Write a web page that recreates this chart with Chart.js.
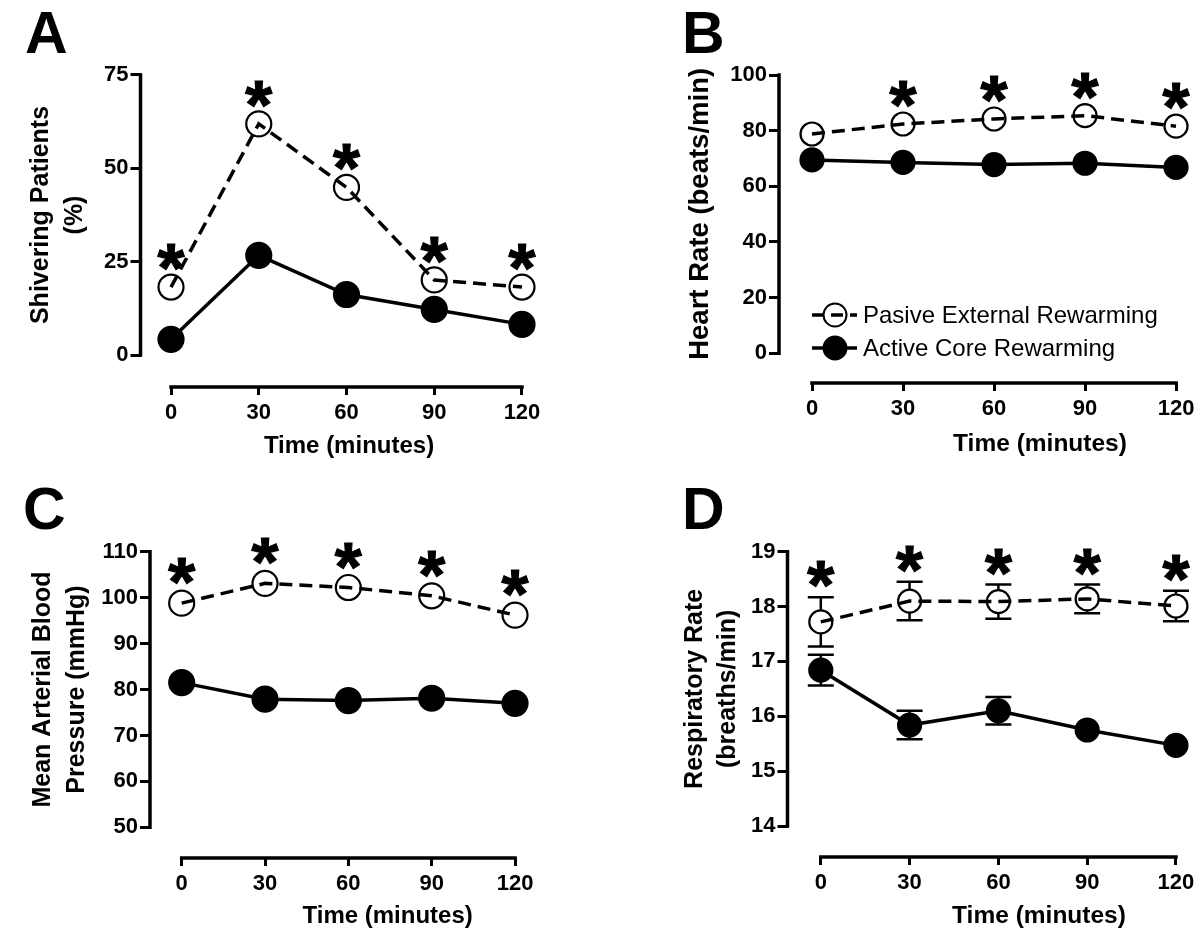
<!DOCTYPE html>
<html><head><meta charset="utf-8">
<script src="https://cdn.jsdelivr.net/npm/chart.js@4/dist/chart.umd.min.js"></script>
<style>
html,body{margin:0;padding:0;background:#fff;overflow:hidden;width:1200px;height:940px;}
#wrap{position:relative;width:1200px;height:940px;overflow:hidden;background:#fff;}
canvas{position:absolute;}
.lbl{position:absolute;font-family:"Liberation Sans",Arial,sans-serif;font-weight:bold;font-size:59px;line-height:59px;color:#000;}
</style></head><body>
<div id="wrap">
<canvas id="cA"></canvas>
<canvas id="cB"></canvas>
<canvas id="cC"></canvas>
<canvas id="cD"></canvas>
<div class="lbl" style="left:25px;top:4px">A</div>
<div class="lbl" style="left:682px;top:4px">B</div>
<div class="lbl" style="left:23px;top:480px">C</div>
<div class="lbl" style="left:682px;top:480px">D</div>
</div>
<script>
// ---------------- data ----------------
const timePoints = [0, 30, 60, 90, 120];
const xTickLabels = ['0', '30', '60', '90', '120'];
const seriesNames = ['Pasive External Rewarming', 'Active Core Rewarming'];
const xTitle = 'Time (minutes)';

// A: shivering patients (%)
const shiverPassive = [18.2, 61.9, 44.9, 20.1, 18.2];
const shiverActive  = [4.2, 26.7, 16.2, 12.2, 8.2];
const shiverSig     = [1, 1, 1, 1, 1];
const shiverTicks   = [0, 25, 50, 75];

// B: heart rate (beats/min)
const hrPassive = [78.8, 82.4, 84.2, 85.4, 81.6];
const hrActive  = [69.5, 68.6, 67.8, 68.3, 66.8];
const hrSig     = [0, 1, 1, 1, 1];
const hrTicks   = [0, 20, 40, 60, 80, 100];

// C: mean arterial blood pressure (mmHg)
const mapPassive = [98.8, 103.1, 102.2, 100.4, 96.2];
const mapActive  = [81.5, 77.9, 77.6, 78.1, 77.0];
const mapSig     = [1, 1, 1, 1, 1];
const mapTicks   = [50, 60, 70, 80, 90, 100, 110];

// D: respiratory rate (breaths/min) with SEM
const rrPassive    = [17.72, 18.10, 18.09, 18.14, 18.01];
const rrPassiveErr = [0.45, 0.35, 0.31, 0.26, 0.28];
const rrActive     = [16.84, 15.84, 16.10, 15.75, 15.47];
const rrActiveErr  = [0.28, 0.26, 0.25, 0, 0];
const rrSig        = [1, 1, 1, 1, 1];
const rrTicks      = [14, 15, 16, 17, 18, 19];

// ---------------- rendering ----------------
const FONT = '"Liberation Sans", Arial, Helvetica, sans-serif';
Chart.defaults.font.family = FONT;
Chart.defaults.color = '#000';

function pts(vals) { return timePoints.map((t, i) => ({x: t, y: vals[i]})); }

function drawStar(ctx, x, y) {
  ctx.save();
  ctx.font = 'bold 100px ' + FONT;
  const m = ctx.measureText('*');
  const w = m.actualBoundingBoxLeft + m.actualBoundingBoxRight;
  const size = 27 / w * 100;
  ctx.font = 'bold ' + size + 'px ' + FONT;
  const m2 = ctx.measureText('*');
  ctx.textAlign = 'left';
  ctx.textBaseline = 'alphabetic';
  ctx.fillStyle = '#000';
  ctx.strokeStyle = '#000';
  ctx.lineWidth = 1.2;
  const dx = (m2.actualBoundingBoxRight - m2.actualBoundingBoxLeft) / 2;
  const dy = (m2.actualBoundingBoxDescent - m2.actualBoundingBoxAscent) / 2;
  ctx.fillText('*', x - dx, y - dy);
  ctx.strokeText('*', x - dx, y - dy);
  ctx.restore();
}

function makePanel(cfg) {
  const cv = document.getElementById(cfg.id);
  cv.width = cfg.W; cv.height = 470;
  cv.style.left = cfg.left + 'px'; cv.style.top = cfg.top + 'px';
  cv.style.width = cfg.W + 'px'; cv.style.height = '470px';

  const errP = cfg.errP || cfg.passive.map(() => 0);
  const errA = cfg.errA || cfg.active.map(() => 0);

  const plugin = {
    id: 'panel_' + cfg.id,
    beforeDatasetsDraw(chart) {
      const {ctx, chartArea: ca, scales: {x, y}} = chart;
      ctx.save();
      ctx.strokeStyle = '#000';
      ctx.lineWidth = 3.5;
      ctx.lineCap = 'square';
      ctx.beginPath();
      ctx.moveTo(ca.left, y.getPixelForValue(cfg.yTicks[0]));
      ctx.lineTo(ca.left, y.getPixelForValue(cfg.yTicks[cfg.yTicks.length - 1]));
      ctx.stroke();
      ctx.beginPath();
      ctx.moveTo(x.getPixelForValue(timePoints[0]), ca.bottom);
      ctx.lineTo(x.getPixelForValue(timePoints[timePoints.length - 1]), ca.bottom);
      ctx.stroke();
      // error bars
      ctx.lineWidth = 2.5;
      ctx.lineCap = 'butt';
      const bars = (vals, errs) => {
        vals.forEach((v, i) => {
          const e = errs[i];
          if (!e) return;
          const px = x.getPixelForValue(timePoints[i]);
          const pt = y.getPixelForValue(v + e), pb = y.getPixelForValue(v - e);
          ctx.beginPath();
          ctx.moveTo(px, pt); ctx.lineTo(px, pb);
          ctx.moveTo(px - 13, pt); ctx.lineTo(px + 13, pt);
          ctx.moveTo(px - 13, pb); ctx.lineTo(px + 13, pb);
          ctx.stroke();
        });
      };
      bars(cfg.passive, errP);
      bars(cfg.active, errA);
      ctx.restore();
    },
    afterDatasetsDraw(chart) {
      const {ctx, scales: {x, y}} = chart;
      cfg.sig.forEach((s, i) => {
        if (!s) return;
        const px = x.getPixelForValue(timePoints[i]);
        const py = y.getPixelForValue(cfg.passive[i] + errP[i]) - cfg.starOff;
        drawStar(ctx, px, py);
      });
      if (cfg.legend) {
        const rows = [{y: 315, open: true, name: seriesNames[0]}, {y: 348, open: false, name: seriesNames[1]}];
        ctx.save();
        rows.forEach(r => {
          ctx.beginPath();
          ctx.arc(235, r.y, 11.5, 0, Math.PI * 2);
          ctx.fillStyle = r.open ? '#fff' : '#000';
          ctx.fill();
          ctx.lineWidth = 2; ctx.strokeStyle = '#000';
          ctx.stroke();
          ctx.beginPath();
          ctx.setLineDash(r.open ? [12, 7] : []);
          ctx.lineWidth = 3.5;
          ctx.moveTo(212, r.y); ctx.lineTo(257, r.y);
          ctx.stroke();
          ctx.setLineDash([]);
          ctx.fillStyle = '#000';
          ctx.font = '24px ' + FONT;
          ctx.textAlign = 'left';
          ctx.textBaseline = 'middle';
          ctx.fillText(r.name, 263, r.y + 1);
        });
        ctx.restore();
      }
    }
  };

  const gridOpts = {display: true, drawOnChartArea: false, drawTicks: true, tickLength: 10, tickWidth: 3, tickColor: '#000', color: '#000', lineWidth: 3};

  return new Chart(cv, {
    type: 'line',
    data: {
      datasets: [
        {label: seriesNames[0], data: pts(cfg.passive), borderColor: '#000', borderWidth: 3.5, borderDash: [13, 7], pointRadius: 0, pointHoverRadius: 0, tension: 0, fill: false, clip: false, order: 1},
        {label: seriesNames[1], data: pts(cfg.active), borderColor: '#000', borderWidth: 3.5, pointRadius: 0, pointHoverRadius: 0, tension: 0, fill: false, clip: false, order: 1},
        {label: seriesNames[0] + ' markers', data: pts(cfg.passive), showLine: false, pointRadius: cfg.r, pointHoverRadius: cfg.r, pointBackgroundColor: '#fff', pointBorderColor: '#000', pointBorderWidth: 2.2, clip: false, order: 2},
        {label: seriesNames[1] + ' markers', data: pts(cfg.active), showLine: false, pointRadius: cfg.r, pointHoverRadius: cfg.r, pointBackgroundColor: '#000', pointBorderColor: '#000', pointBorderWidth: 2.2, clip: false, order: 2}
      ]
    },
    options: {
      responsive: false,
      animation: false,
      events: [],
      devicePixelRatio: 1,
      layout: {padding: {top: cfg.cTop, right: cfg.W - cfg.cRight, bottom: 0, left: 0}},
      plugins: {legend: {display: false}, tooltip: {enabled: false}},
      scales: {
        x: {
          type: 'linear', min: cfg.xMin, max: cfg.xMax,
          afterBuildTicks: s => { s.ticks = timePoints.map(v => ({value: v})); },
          afterFit: s => { s.height = 470 - cfg.cBottom; },
          border: {display: false},
          grid: {...gridOpts, tickLength: 8},
          ticks: {autoSkip: false, maxRotation: 0, padding: 5, font: {size: 22, weight: 'bold'}, color: '#000',
                  callback: (v, i) => xTickLabels[i]},
          title: {display: true, text: xTitle, color: '#000', font: {size: cfg.xtSize, weight: 'bold', lineHeight: 1.2}, padding: {top: 0, bottom: cfg.xtPad}}
        },
        y: {
          type: 'linear', min: cfg.yMin, max: cfg.yMax,
          afterBuildTicks: s => { s.ticks = cfg.yTicks.map(v => ({value: v})); },
          afterFit: s => { s.width = cfg.cLeft; },
          border: {display: false},
          grid: gridOpts,
          ticks: {autoSkip: false, padding: 2, font: {size: 22, weight: 'bold'}, color: '#000',
                  callback: v => String(v)},
          title: {display: true, text: cfg.yTitle, color: '#000', font: {size: cfg.ytSize, weight: 'bold', lineHeight: cfg.ytLH}, padding: {top: cfg.ytPad, bottom: 0}}
        }
      }
    },
    plugins: [plugin]
  });
}

makePanel({id: 'cA', left: 0, top: 0, W: 600,
  cLeft: 140.5, cRight: 557.5, cTop: 43, cBottom: 387,
  xMin: -10.43, xMax: 132.14, yMin: -8.571, yMax: 83.571, yTicks: shiverTicks,
  passive: shiverPassive, active: shiverActive, sig: shiverSig, r: 12.5, starOff: 30,
  yTitle: ['Shivering Patients', '(%)'], ytSize: 25, ytLH: 1.36, ytPad: 24.5, xtSize: 24, xtPad: 9.1});

makePanel({id: 'cB', left: 600, top: 0, W: 720,
  cLeft: 179, cRight: 701, cTop: 44.7, cBottom: 383,
  xMin: -10.88, xMax: 161.2, yMin: -10.67, yMax: 110.89, yTicks: hrTicks,
  passive: hrPassive, active: hrActive, sig: hrSig, r: 11.5, starOff: 30, legend: true,
  yTitle: 'Heart Rate (beats/min)', ytSize: 27.5, ytLH: 1.36, ytPad: 81.8, xtSize: 24.5, xtPad: 10.6});

makePanel({id: 'cC', left: 0, top: 470, W: 640,
  cLeft: 150, cRight: 630, cTop: 51, cBottom: 388,
  xMin: -11.41, xMax: 159.7, yMin: 43.32, yMax: 116.68, yTicks: mapTicks,
  passive: mapPassive, active: mapActive, sig: mapSig, r: 12.5, starOff: 32,
  yTitle: ['Mean Arterial Blood', 'Pressure (mmHg)'], ytSize: 25, ytLH: 1.36, ytPad: 26, xtSize: 24, xtPad: 9.1});

makePanel({id: 'cD', left: 600, top: 470, W: 720,
  cLeft: 187.5, cRight: 690.5, cTop: 50.7, cBottom: 387,
  xMin: -11.25, xMax: 158.7, yMin: 13.435, yMax: 19.565, yTicks: rrTicks,
  passive: rrPassive, active: rrActive, errP: rrPassiveErr, errA: rrActiveErr, sig: rrSig, r: 11.5, starOff: 23,
  yTitle: ['Respiratory Rate', '(breaths/min)'], ytSize: 25, ytLH: 1.32, ytPad: 78.2, xtSize: 24.5, xtPad: 9.1});
</script>
</body></html>
